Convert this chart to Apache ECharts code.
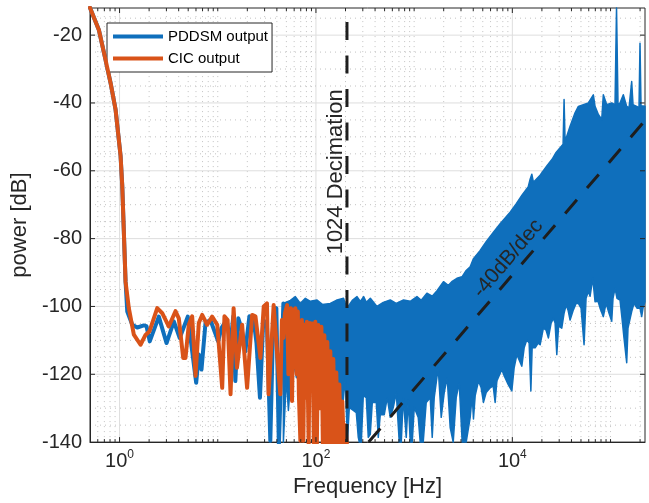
<!DOCTYPE html>
<html>
<head>
<meta charset="utf-8">
<script src="https://cdn.jsdelivr.net/npm/echarts@6/dist/echarts.min.js"></script>
<style>
html,body{margin:0;padding:0;background:#fff;}
#chart{width:649px;height:503px;}
</style>
</head>
<body>
<div id="chart"></div>
<script>
// ---------- axis limits and tick labels ----------
const xMin = 0.5, xMax = 224400;
const yMin = -140, yMax = -12;
const xLabelExponents = [0, 2, 4];
const xMajorTicks = [1, 100, 10000];
const yMajorTicks = [-140, -120, -100, -80, -60, -40, -20];

// ---------- PDDSM output: resolved line part (Hz, dB) ----------
const pddsmFreq = [0.5, 0.616, 0.72, 0.81, 0.911, 1.024, 1.065, 1.106, 1.151, 1.198, 1.347, 1.514, 1.767, 1.88, 2.03, 2.51, 3.01, 3.57, 4.10, 4.95, 6.03, 6.41, 6.83, 7.50, 8.42, 10.1, 10.9, 12.3, 13.5, 14.4, 15.1, 16.2, 17.4, 19.1, 21.0, 23.3, 24.8, 26.9, 29.1, 31.7, 34.3, 36.8, 39.5, 41.9, 43.9, 46.6];
const pddsmPower = [-11.9, -18.5, -27.3, -34.1, -42.0, -55.6, -64.4, -78.1, -92.7, -101.5, -105.4, -106.2, -105.6, -105.8, -110.3, -103.0, -110.8, -104.4, -109.3, -103.0, -122.5, -114.2, -118.6, -104.9, -104.0, -110.3, -106.4, -104.0, -110.8, -102.9, -122.0, -103.5, -106.4, -113.2, -102.9, -104.4, -110.8, -126.9, -104.0, -105.4, -139.6, -103.5, -100.5, -141, -141, -99.1];

// ---------- PDDSM output: dense noise band, upper and lower envelopes ----------
const bandUpperFreq = [46.6, 54.9, 61.7, 69.4, 78.0, 87.7, 102.6, 116.2, 140, 161, 191, 207, 234.5, 262, 283, 306, 326, 358, 418, 485, 571, 657, 780, 913, 1068, 1181, 1349, 1528, 1718, 1990, 2223, 2441, 2725, 3085, 3388, 3722, 4020, 4704, 5414, 6421, 7515, 8448, 9500, 10934, 12590, 14485, 15180, 15790, 16400, 19180, 22440, 25400, 27900, 30640, 32880, 33640, 34440, 35850, 38730, 43530, 47040, 52870, 59470, 66820, 69550, 75170, 81330, 84460, 91490, 102800, 111100, 115100, 119200, 124900, 134900, 146100, 154300, 164200, 169400, 184700, 195000, 199600, 204400, 224400];
const bandUpperPower = [-99.1, -98.2, -97.1, -99.1, -97.6, -98.5, -98.1, -99.4, -99.1, -98.2, -97.6, -100.5, -98.2, -97.1, -98.5, -97.1, -98.8, -97.6, -100.0, -98.8, -98.1, -99.1, -98.1, -98.5, -97.1, -98.2, -96.1, -97.0, -95.3, -92.7, -93.8, -92.6, -91.7, -91.2, -89.4, -88.3, -85.9, -83.5, -80.9, -78.1, -75.6, -73.9, -72.2, -69.8, -67.1, -64.8, -62.5, -61.0, -63.4, -61.3, -58.6, -56.6, -54.6, -53.2, -52.2, -39.0, -51.3, -49.8, -46.9, -42.9, -41.0, -40.5, -40.0, -37.6, -41.0, -43.4, -44.9, -37.6, -40.5, -40.0, -40.5, -10, -40.5, -40.0, -37.6, -41.0, -41.4, -33.7, -40.5, -41.0, -41.4, -22.4, -40.8, -41.0];
const bandLowerFreq = [46.6, 50.0, 52.4, 57.5, 63.2, 69.4, 79.9, 91.9, 105.8, 116.2, 127.6, 140, 153.8, 168.9, 185.6, 199.1, 208.6, 218.7, 234.5, 257.6, 269.9, 276.4, 289.7, 303.5, 325.6, 341.2, 357.6, 374.8, 411.6, 431.3, 451.9, 496.2, 532.3, 571.3, 613, 657.6, 705.6, 739.3, 774.7, 831, 870.8, 912.6, 956.4, 1002, 1101, 1153, 1237, 1327, 1458, 1528, 1601, 1758, 1887, 2024, 2171, 2329, 2499, 2681, 2876, 3085, 3388, 3722, 3901, 4020, 4184, 4522, 4817, 5080, 5414, 5945, 6379, 6682, 6956, 7816, 8251, 9063, 9880, 10430, 11120, 11730, 12490, 13190, 14050, 14830, 15440, 15910, 17060, 18310, 19180, 20710, 22080, 23300, 24820, 26180, 27250, 28360, 29570, 31870, 33640, 35270, 36950, 38730, 41830, 44580, 47060, 50120, 53750, 56340, 59480, 61870, 65900, 69550, 74620, 78200, 84460, 90010, 96580, 102800, 106000, 111100, 116400, 124900, 130900, 137100, 146100, 150600, 164200, 173400, 186000, 199600, 207600, 214200, 224400];
const bandLowerPower = [-140, -121.0, -130.7, -115.2, -121.0, -112.2, -118.1, -115.2, -121.0, -120.4, -112.2, -115.2, -115.2, -126.9, -130.7, -121.0, -140, -129.8, -130.4, -131.3, -138.6, -141, -141, -126.3, -126.9, -138.6, -137.7, -128.3, -128.3, -138.6, -131.9, -131.9, -126.9, -132.7, -129.8, -125.4, -141, -141, -126.9, -138.6, -127.5, -141, -141, -129.8, -132.7, -141, -141, -128.3, -126.9, -138.6, -126.9, -118.1, -132.7, -125.4, -121.0, -135.7, -141, -126.9, -122.5, -141, -141, -132.7, -126.3, -133.2, -126.3, -122.0, -124.0, -128.3, -125.4, -124.0, -123.4, -128.3, -122.0, -118.6, -120.4, -123.0, -124.9, -118.1, -114.2, -115.8, -117.6, -112.2, -109.8, -110.8, -124.9, -112.2, -112.2, -110.8, -111.3, -106.4, -107.0, -109.3, -104.9, -103.5, -104.9, -114.2, -105.8, -106.4, -102.0, -99.6, -101.1, -104.0, -101.0, -99.1, -99.1, -100.5, -111.3, -97.6, -95.6, -97.0, -91.7, -98.6, -98.5, -100.5, -103.0, -99.1, -102.0, -104.4, -97.6, -94.7, -97.6, -98.1, -103.5, -109.3, -116.6, -106.4, -101.5, -99.1, -100.5, -100.5, -103.0, -100.5, -98.6];

// ---------- CIC output (Hz, dB) ----------
const cicFreq = [0.5, 0.616, 0.72, 0.81, 0.911, 1.024, 1.065, 1.106, 1.151, 1.243, 1.398, 1.635, 1.838, 2.02, 2.42, 2.72, 3.17, 3.71, 4.01, 4.45, 4.69, 5.07, 5.49, 5.94, 6.41, 6.94, 7.80, 8.77, 9.88, 11.1, 11.7, 12.6, 13.5, 14.5, 15.7, 17.7, 19.9, 22.4, 24.2, 27.2, 29.4, 31.7, 32.9, 37.1, 38.6, 41.7, 43.4, 45.0, 46.6, 48.3, 50.9, 52.4, 53.6, 55.5, 57.1, 58.9, 60.3, 61.7, 63.9, 65.4, 67.0, 69.4, 71.9, 74.4, 76.7, 78.9, 80.8, 84.3, 86.7, 89.8, 91.9, 95.2, 98.6, 102.1, 105.8, 109.5, 113.6, 117.6, 121.8, 126.1, 130.6, 135.3, 140.1, 145.1, 150.3, 155.6, 161.2, 167.0, 173.0, 179.2, 185.6, 192.2, 199.1, 207];
const cicPower = [-11.9, -18.5, -27.3, -34.1, -42.0, -55.6, -64.4, -78.1, -92.7, -100.5, -108.3, -111.3, -108.4, -107.3, -100.5, -102.0, -105.9, -101.4, -103.5, -115.2, -115.2, -105.4, -102.9, -120.5, -104.9, -102.5, -105.4, -103.0, -105.4, -124.0, -102.9, -104.0, -125.9, -100.5, -118.1, -105.4, -124.0, -102.5, -102.9, -115.2, -100.0, -99.1, -125.9, -99.6, -100.0, -120.1, -125.9, -104.0, -109.3, -102.0, -99.6, -120.0, -106.4, -100.5, -127.9, -101.0, -118.0, -100.5, -120.0, -101.5, -126.0, -139.6, -104.0, -139.6, -105.4, -126.9, -104.5, -141, -104.9, -122.0, -105.0, -141, -104.5, -141, -105.5, -130.0, -106.0, -141, -108.5, -141, -110.5, -141, -113.2, -141, -115.5, -141, -119.5, -141, -123.0, -141, -128.0, -141, -135.0, -141];

// ---------- reference lines ----------
const decimationFreq = 207;
const slopeFreq = [344, 224400];
const slopePower = [-140, -45.2];
const decimationLabelAt = [161, -60.3];
const slopeLabelAt = [9060, -85.9];

const BLUE = '#0F6FBC';
const RED = '#D95319';
const AX = '#262626';
const FONT = '"Liberation Sans", Arial, Helvetica, sans-serif';

const zip = (a, b) => a.map((v, i) => [v, b[i]]);

// grid / tick positions
const xGridData = [];
for (let e = -1; e <= 5; e++) {
  for (let m = 1; m <= 9; m++) {
    const v = +(m * Math.pow(10, e)).toPrecision(6);
    if (v <= xMin * 1.001 || v >= xMax * 0.999) continue;
    const major = xMajorTicks.indexOf(v) >= 0 ? 1 : 0;
    xGridData.push([v, yMin, major]);
  }
}
const yGridData = [];
for (let v = -135; v <= -15; v += 5) {
  yGridData.push([xMin, v, yMajorTicks.indexOf(v) >= 0 ? 1 : 0]);
}

const chart = echarts.init(document.getElementById('chart'), null, {renderer: 'canvas'});

const gridStyle = function (major) {
  return major ? {stroke: '#dedede', lineWidth: 1} : {stroke: '#c2c2c2', lineWidth: 1, lineDash: [1, 4]};
};

const option = {
  animation: false,
  backgroundColor: '#ffffff',
  textStyle: {fontFamily: FONT},
  grid: {left: 90, right: 4, top: 8, bottom: 57, show: true, borderColor: AX, borderWidth: 1, backgroundColor: 'transparent'},
  legend: {
    data: ['PDDSM output', 'CIC output'],
    orient: 'vertical', left: 107, top: 23,
    padding: [6, 4, 6, 6], itemGap: 7, itemWidth: 50, itemHeight: 4,
    icon: 'rect', backgroundColor: '#ffffff', borderColor: AX, borderWidth: 1,
    selectedMode: false,
    textStyle: {fontSize: 15, color: '#000', fontFamily: FONT}
  },
  xAxis: {
    type: 'log', logBase: 10, min: xMin, max: xMax,
    axisLine: {show: true, lineStyle: {color: AX, width: 1}},
    axisTick: {show: false}, splitLine: {show: false}, minorTick: {show: false},
    axisLabel: {
      margin: 7,
      formatter: function (v) {
        const e = Math.log10(v), r = Math.round(e);
        if (Math.abs(e - r) > 1e-6 || xLabelExponents.indexOf(r) < 0) return '';
        return '{b|10}{s|' + r + '}';
      },
      rich: {
        b: {fontSize: 20, lineHeight: 24, color: AX, fontFamily: FONT},
        s: {fontSize: 12, lineHeight: 12, verticalAlign: 'top', color: AX, fontFamily: FONT}
      }
    },
    name: 'Frequency [Hz]', nameLocation: 'middle', nameGap: 33,
    nameTextStyle: {fontSize: 22, color: AX, fontFamily: FONT}
  },
  yAxis: {
    type: 'value', min: yMin, max: yMax, interval: 20,
    axisLine: {show: true, lineStyle: {color: AX, width: 1}},
    axisTick: {show: false}, splitLine: {show: false},
    axisLabel: {
      margin: 8, fontSize: 20, color: AX, fontFamily: FONT,
      formatter: function (v) { return yMajorTicks.indexOf(v) >= 0 ? String(v) : ''; }
    },
    name: 'power [dB]', nameLocation: 'middle', nameGap: 57, nameRotate: 90,
    nameTextStyle: {fontSize: 22, color: AX, fontFamily: FONT}
  },
  series: [
    {
      type: 'custom', name: 'xgrid', silent: true, z: 0,
      data: xGridData,
      renderItem: function (params, api) {
        const v = api.value(0), major = api.value(2);
        const a = api.coord([v, yMin]), b = api.coord([v, yMax]);
        return {type: 'line', shape: {x1: a[0], y1: a[1], x2: b[0], y2: b[1]}, style: gridStyle(major)};
      }
    },
    {
      type: 'custom', name: 'ygrid', silent: true, z: 0,
      data: yGridData,
      renderItem: function (params, api) {
        const v = api.value(1), major = api.value(2);
        const a = api.coord([xMin, v]), b = api.coord([xMax, v]);
        return {type: 'line', shape: {x1: a[0], y1: a[1], x2: b[0], y2: b[1]}, style: gridStyle(major)};
      }
    },
    {
      type: 'custom', name: 'PDDSM band', silent: true, z: 2,
      data: [[1000, -100]],
      renderItem: function (params, api) {
        const pts = [];
        for (let i = 0; i < bandUpperFreq.length; i++) pts.push(api.coord([bandUpperFreq[i], bandUpperPower[i]]));
        for (let i = bandLowerFreq.length - 1; i >= 0; i--) pts.push(api.coord([bandLowerFreq[i], bandLowerPower[i]]));
        const cs = params.coordSys;
        const clipped = echarts.graphic.clipPointsByRect(pts, {x: cs.x, y: cs.y, width: cs.width, height: cs.height});
        return {type: 'polygon', shape: {points: clipped},
          style: {fill: BLUE, stroke: BLUE, lineWidth: 1.5, lineJoin: 'round'}};
      }
    },
    {
      type: 'line', name: 'PDDSM output', color: BLUE, z: 3,
      data: zip(pddsmFreq, pddsmPower),
      showSymbol: false, symbol: 'none', clip: true, silent: true,
      lineStyle: {color: BLUE, width: 4, join: 'round', cap: 'round'}
    },
    {
      type: 'line', name: 'CIC output', color: RED, z: 4,
      data: zip(cicFreq, cicPower),
      showSymbol: false, symbol: 'none', clip: true, silent: true,
      lineStyle: {color: RED, width: 4, join: 'round', cap: 'round'}
    },
    {
      type: 'line', name: 'decimation', z: 5, silent: true, clip: true,
      data: [[decimationFreq, yMin], [decimationFreq, yMax]],
      showSymbol: false, symbol: 'none',
      lineStyle: {color: '#1e1e1e', width: 3, type: [18, 15.5]}
    },
    {
      type: 'line', name: 'slope', z: 5, silent: true, clip: true,
      data: zip(slopeFreq, slopePower),
      showSymbol: false, symbol: 'none',
      lineStyle: {color: '#1e1e1e', width: 3, type: [18, 15.5]}
    },
    {
      type: 'custom', name: 'xticks', silent: true, z: 8,
      data: xGridData,
      renderItem: function (params, api) {
        const v = api.value(0), major = api.value(2);
        const a = api.coord([v, yMin]), b = api.coord([v, yMax]);
        const L = major ? 5 : 3;
        return {type: 'group', children: [
          {type: 'line', shape: {x1: a[0], y1: a[1], x2: a[0], y2: a[1] - L}, style: {stroke: AX, lineWidth: 1}},
          {type: 'line', shape: {x1: b[0], y1: b[1], x2: b[0], y2: b[1] + L}, style: {stroke: AX, lineWidth: 1}}
        ]};
      }
    },
    {
      type: 'custom', name: 'yticks', silent: true, z: 8,
      data: yGridData.filter(d => d[2] === 1),
      renderItem: function (params, api) {
        const v = api.value(1);
        const a = api.coord([xMin, v]), b = api.coord([xMax, v]);
        return {type: 'group', children: [
          {type: 'line', shape: {x1: a[0], y1: a[1], x2: a[0] + 5, y2: a[1]}, style: {stroke: AX, lineWidth: 1}},
          {type: 'line', shape: {x1: b[0], y1: b[1], x2: b[0] - 5, y2: b[1]}, style: {stroke: AX, lineWidth: 1}}
        ]};
      }
    }
  ]
};
chart.setOption(option);

// annotations anchored to data coordinates
const p1 = chart.convertToPixel({gridIndex: 0}, decimationLabelAt);
const p2 = chart.convertToPixel({gridIndex: 0}, slopeLabelAt);
chart.setOption({
  graphic: [
    {type: 'text', x: p1[0], y: p1[1], rotation: Math.PI / 2, z: 20, silent: true,
      style: {text: '1024 Decimation', fontSize: 22, fontFamily: FONT, fill: AX, align: 'center', verticalAlign: 'middle'}},
    {type: 'text', x: p2[0], y: p2[1], rotation: 49.6 * Math.PI / 180, z: 20, silent: true,
      style: {text: '-40dB/dec', fontSize: 21, fontFamily: FONT, fill: AX, align: 'center', verticalAlign: 'middle'}}
  ]
});
</script>
</body>
</html>
